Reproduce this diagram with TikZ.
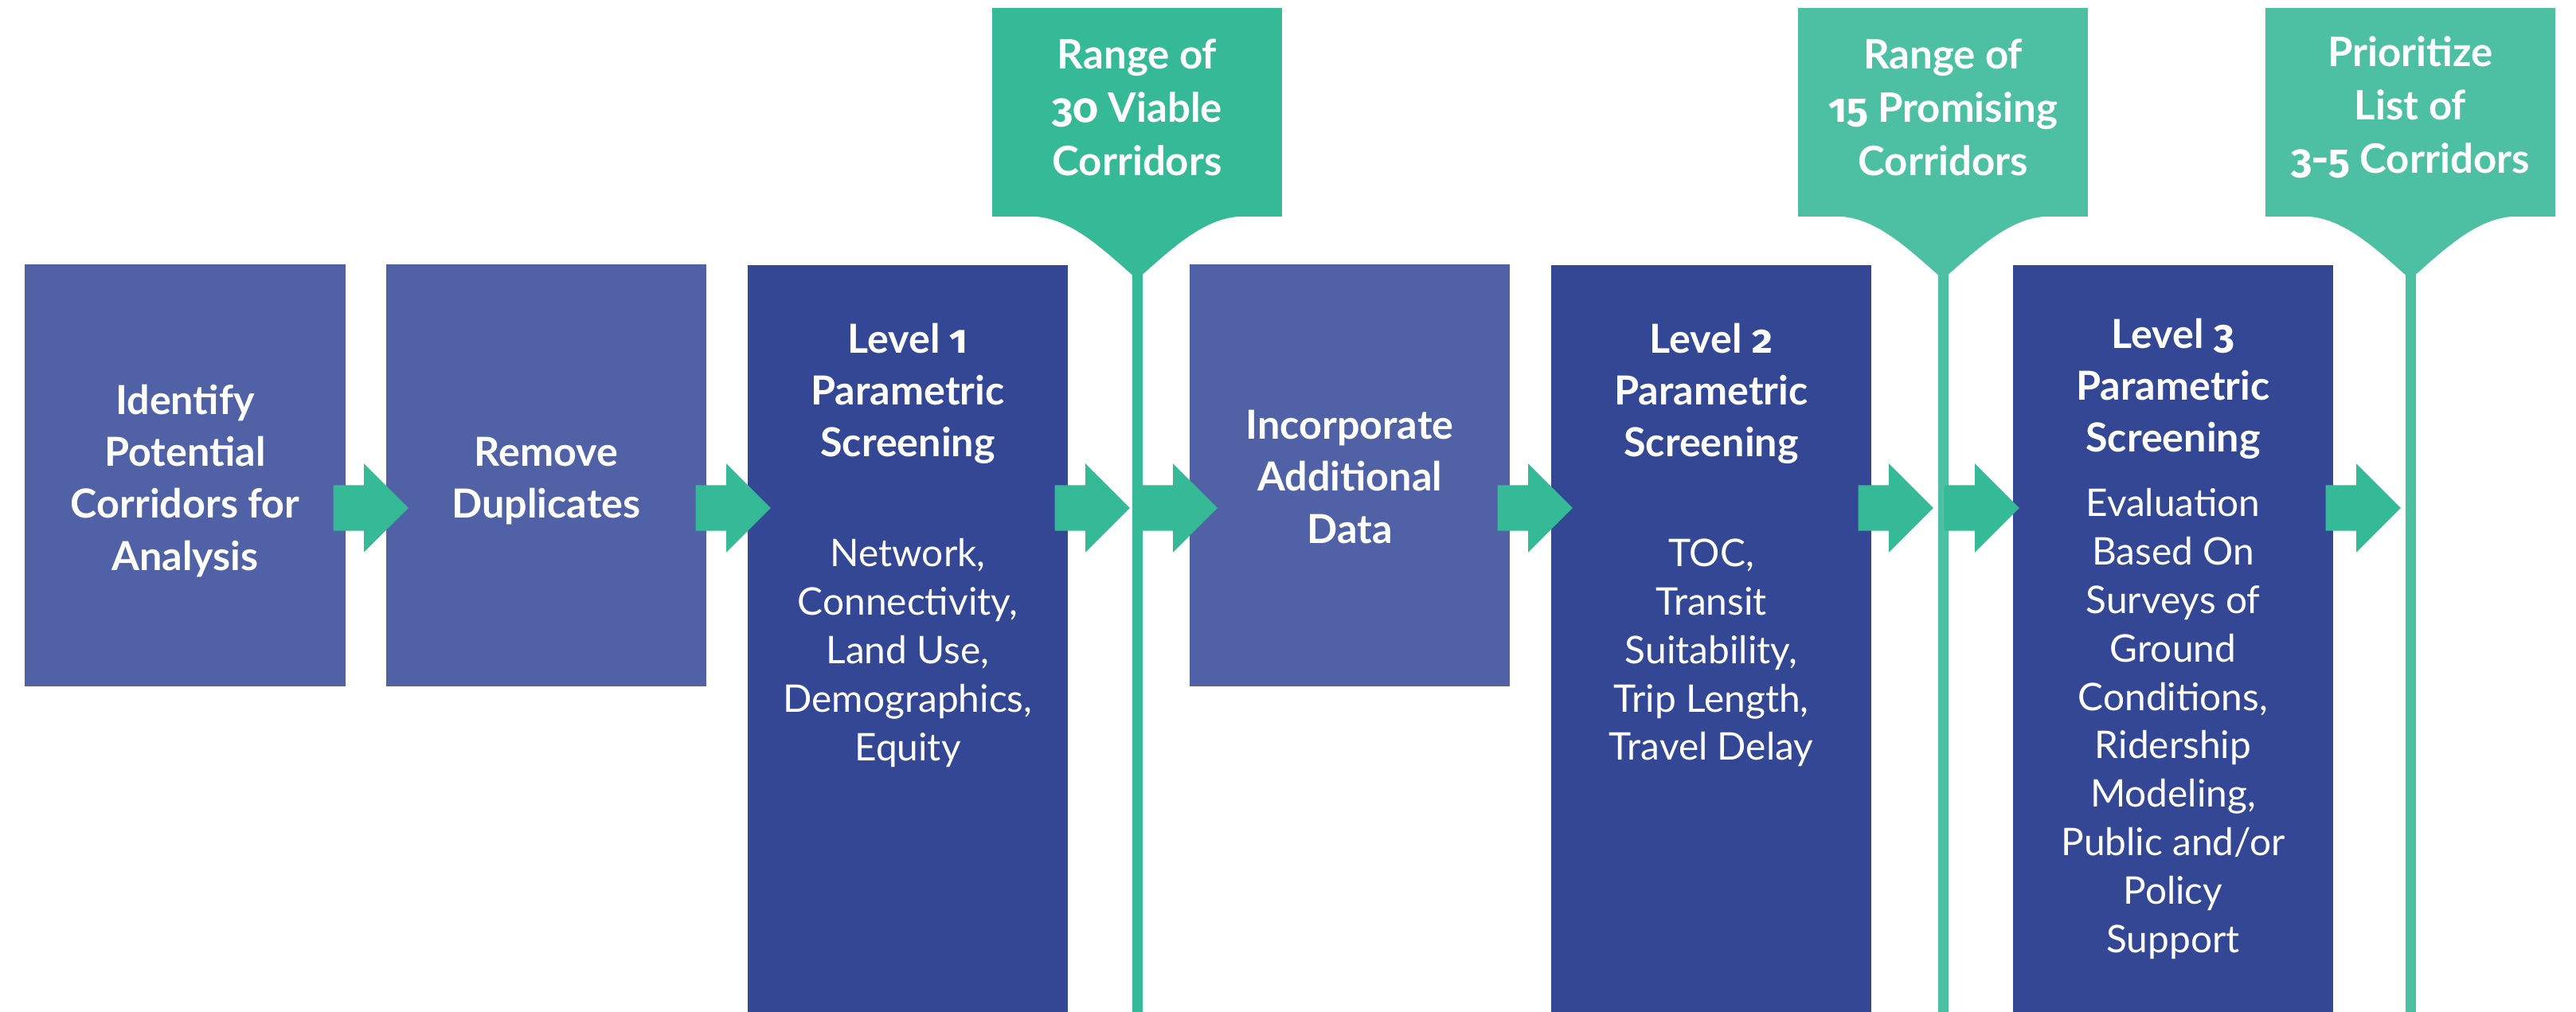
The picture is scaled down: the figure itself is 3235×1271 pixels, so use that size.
\documentclass[tikz,border=0pt]{standalone}
\usepackage{fontspec}
\setmainfont{Lato}
\newfontfamily\osf{Fira Sans}[Numbers=OldStyle]
\usetikzlibrary{shapes.arrows,calc}
\definecolor{boxlight}{HTML}{5062A5}
\definecolor{boxdark}{HTML}{334794}
\definecolor{tealA}{HTML}{35B996}
\definecolor{tealB}{HTML}{4DC0A4}
\definecolor{arrowc}{HTML}{35B996}
\tikzset{
  lightbox/.style={fill=boxlight, draw=none, minimum width=4.02cm, minimum height=5.30cm, inner sep=0},
  boxtext/.style={text=white, align=center, font=\bfseries\fontsize{14.3}{18.5}\selectfont},
  tallbox/.style={fill=boxdark, draw=none, minimum width=4.02cm, minimum height=9.40cm, inner sep=0, anchor=north},
  blockarrow/.style={single arrow, fill=arrowc, draw=none, minimum height=0.94cm,
     inner xsep=0pt, inner ysep=0.28cm, single arrow head extend=0.27cm, anchor=tail},
  callout/.style={minimum width=3.64cm, minimum height=2.62cm, inner sep=0},
  callouttext/.style={text=white, align=center, font=\bfseries\fontsize{14.5}{19}\selectfont},
  titletext/.style={text=white, align=center, font=\bfseries\fontsize{14.3}{18.5}\selectfont},
  desctext/.style={text=white, align=center, font=\fontsize{13.6}{17.3}\selectfont},
  pinline/.style={line width=0.13cm},
}
\begin{document}
\begin{tikzpicture}[x=0.01cm,y=-0.01cm]
\useasboundingbox (0,0) rectangle (3235,1271);
\fill[white] (0,0) rectangle (3235,1271);

% boxes
\node[lightbox] (b1) at (232.5,597) {};
\node[lightbox] (b2) at (686,597) {};
\node[tallbox] (b3) at (1140,332) {};
\node[lightbox] (b4) at (1695,597) {};
\node[tallbox] (b5) at (2149,332) {};
\node[tallbox] (b6) at (2729,332) {};

\node[boxtext] (t1) at (232.5,604) {Identify\\Potential\\Corridors for\\Analysis};
\node[boxtext] (t2) at (686,604) {Remove\\Duplicates};
\node[boxtext] (t4) at (1695,599) {Incorporate\\Additional\\Data};

\node[titletext] (t3) at (1140,494) {Level {\osf 1}\\Parametric\\Screening};
\node[desctext] (d3) at (1140,820) {Network,\\Connectivity,\\Land Use,\\Demographics,\\Equity};
\node[titletext] (t5) at (2149,494) {Level {\osf 2}\\Parametric\\Screening};
\node[desctext] (d5) at (2149,820) {TOC,\\Transit\\Suitability,\\Trip Length,\\Travel Delay};
\node[titletext] (t6) at (2729,488) {Level {\osf 3}\\Parametric\\Screening};
\node[desctext] (d6) at (2729,909) {Evaluation\\Based On\\Surveys of\\Ground\\Conditions,\\Ridership\\Modeling,\\Public and/or\\Policy\\Support};

% callouts
\node[callout, fill=tealA] (c1) at (1428,141) {};
\node[callout, fill=tealB] (c2) at (2440,141) {};
\node[callout, fill=tealB] (c3) at (3027,141) {};
\node[callouttext] (ct1) at (1428,135) {Range of\\{\osf 30} Viable\\Corridors};
\node[callouttext] (ct2) at (2440,135) {Range of\\{\osf 15} Promising\\Corridors};
\node[callouttext] (ct3) at (3027,135) {Prioritize\\List of\\{\osf 3-5} Corridors};

\foreach \c/\col in {c1/tealA, c2/tealB, c3/tealB}{
  \fill[\col] ($(\c.south)+(-132,-1)$) .. controls ($(\c.south)+(-85,0)$) and ($(\c.south)+(-45,38)$) ..
     ($(\c.south)+(0,78)$) .. controls ($(\c.south)+(45,38)$) and ($(\c.south)+(85,0)$) ..
     ($(\c.south)+(132,-1)$) -- cycle;
  \coordinate (\c tip) at ($(\c.south)+(0,70)$);
  \coordinate (\c end) at (\c.south |- 0,1275);
  \draw[\col, pinline] (\c tip) -- (\c end);
}

% block arrows
\node[blockarrow] (a1) at (418,638) {};
\node[blockarrow] (a2) at (873,638) {};
\node[blockarrow] (a3) at (1324,638) {};
\node[blockarrow] (a4) at (1434,638) {};
\node[blockarrow] (a5) at (1880,638) {};
\node[blockarrow] (a6) at (2333,638) {};
\node[blockarrow] (a7) at (2441,638) {};
\node[blockarrow] (a8) at (2920,638) {};
\end{tikzpicture}
\end{document}
